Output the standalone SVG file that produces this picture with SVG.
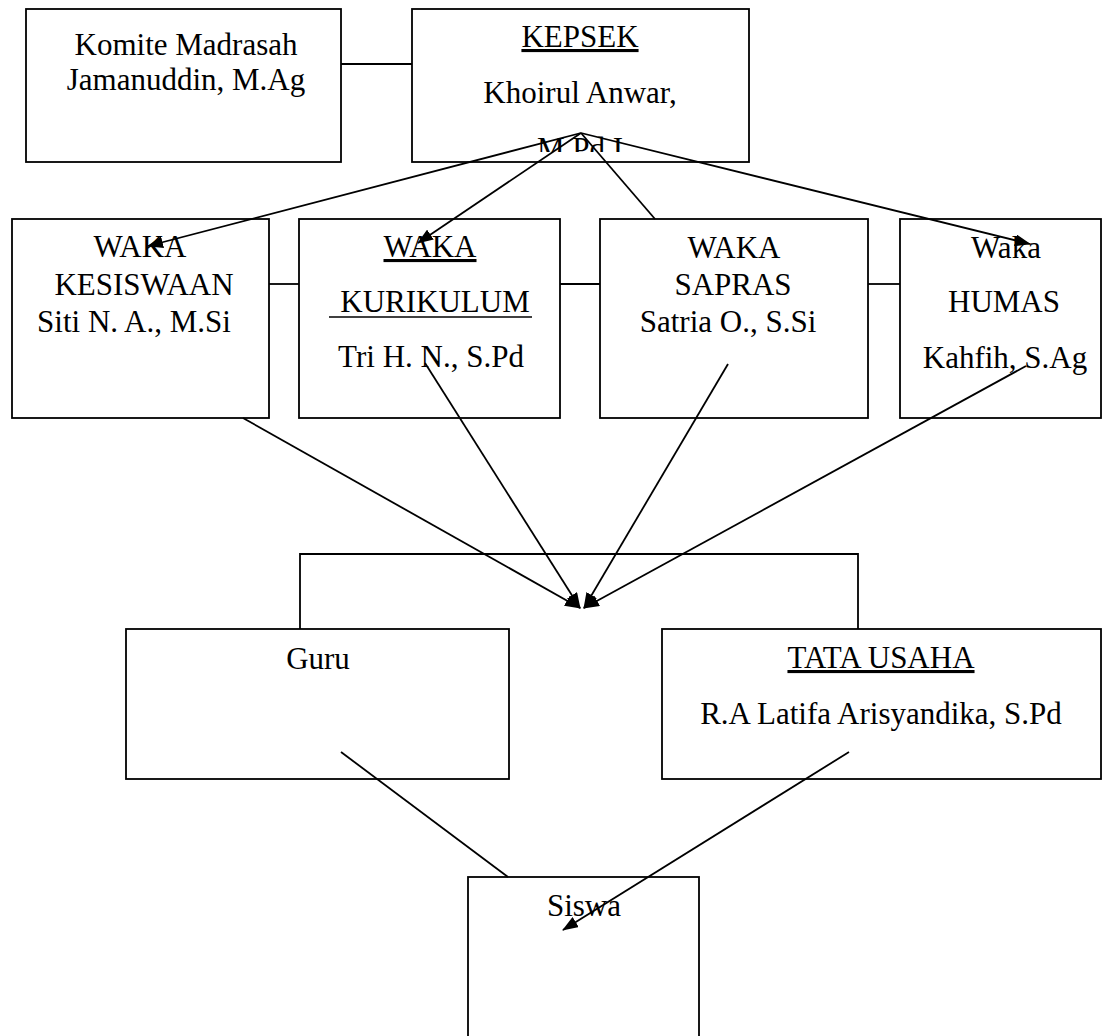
<svg xmlns="http://www.w3.org/2000/svg" width="1103" height="1036" viewBox="0 0 1103 1036">
<style>
.box{fill:#fff;stroke:#000;stroke-width:1.8}
.t{font-family:"Liberation Serif","Times New Roman",serif;font-size:31px;fill:#000;text-anchor:middle}
.u{text-decoration:underline}
.ln{stroke:#000;stroke-width:1.8;fill:none}
.ar{stroke:#000;stroke-width:1.8;fill:none;marker-end:url(#ah)}
</style>
<defs>
<marker id="ah" markerWidth="16" markerHeight="12" refX="15" refY="6" orient="auto" markerUnits="userSpaceOnUse" viewBox="0 0 16 12">
<path d="M0,0 L16,6 L0,12 z" fill="#000"/>
</marker>
<clipPath id="kclip"><rect x="412" y="9" width="337" height="143"/></clipPath>
</defs>
<rect width="1103" height="1036" fill="#fff"/>
<g id="komite">
<rect class="box" x="26" y="9" width="315" height="153"/>
<text class="t" x="186" y="55">Komite Madrasah</text>
<text class="t" x="186" y="90">Jamanuddin, M.Ag</text>
</g>
<g id="kepsek">
<rect class="box" x="412" y="9" width="337" height="153"/>
<text class="t u" x="580" y="47">KEPSEK</text>
<text class="t" x="580" y="103">Khoirul Anwar,</text>
<text class="t" x="580" y="159" clip-path="url(#kclip)">M.Pd.I</text>
</g>
<g id="kesiswaan">
<rect class="box" x="12" y="219" width="257" height="199"/>
<text class="t" x="140" y="257">WAKA</text>
<text class="t" x="144" y="295">KESISWAAN</text>
<text class="t" x="134" y="332">Siti N. A., M.Si</text>
</g>
<g id="kurikulum">
<rect class="box" x="299" y="219" width="261" height="199"/>
<text class="t u" x="430" y="257">WAKA</text>
<text class="t" x="435" y="312">KURIKULUM</text>
<line x1="329" y1="317" x2="532" y2="317" stroke="#000" stroke-width="1.6"/>
<text class="t" x="431" y="367">Tri H. N., S.Pd</text>
</g>
<g id="sapras">
<rect class="box" x="600" y="219" width="268" height="199"/>
<text class="t" x="734" y="258">WAKA</text>
<text class="t" x="733" y="295">SAPRAS</text>
<text class="t" x="728" y="332">Satria O., S.Si</text>
</g>
<g id="humas">
<rect class="box" x="900" y="219" width="201" height="199"/>
<text class="t" x="1006" y="258">Waka</text>
<text class="t" x="1004" y="312">HUMAS</text>
<text class="t" x="1005" y="368">Kahfih, S.Ag</text>
</g>
<g id="guru">
<rect class="box" x="126" y="629" width="383" height="150"/>
<text class="t" x="318" y="669">Guru</text>
</g>
<g id="tatausaha">
<rect class="box" x="662" y="629" width="439" height="150"/>
<text class="t u" x="881" y="668">TATA USAHA</text>
<text class="t" x="881" y="724">R.A Latifa Arisyandika, S.Pd</text>
</g>
<g id="siswa">
<rect class="box" x="468" y="877" width="231" height="170"/>
<text class="t" x="584" y="916">Siswa</text>
</g>
<g id="connectors">
<line class="ln" x1="341" y1="64" x2="412" y2="64"/>
<line class="ln" x1="269" y1="284" x2="299" y2="284"/>
<line class="ln" x1="560" y1="284" x2="600" y2="284"/>
<line class="ln" x1="868" y1="284" x2="900" y2="284"/>
<line class="ln" x1="581" y1="133" x2="655" y2="219"/>
<line class="ar" x1="581" y1="133" x2="148" y2="246"/>
<line class="ar" x1="581" y1="133" x2="418" y2="243"/>
<line class="ar" x1="581" y1="133" x2="1030" y2="244"/>
<polyline class="ln" points="300,629 300,554 858,554 858,629"/>
<line class="ar" x1="243" y1="418" x2="580" y2="608"/>
<line class="ar" x1="425" y1="363" x2="580" y2="608"/>
<line class="ar" x1="728" y1="364" x2="584" y2="608"/>
<line class="ar" x1="1026" y1="366" x2="584" y2="608"/>
<line class="ln" x1="341" y1="752" x2="508" y2="877"/>
<line class="ar" x1="849" y1="752" x2="563" y2="930"/>
</g>
</svg>
